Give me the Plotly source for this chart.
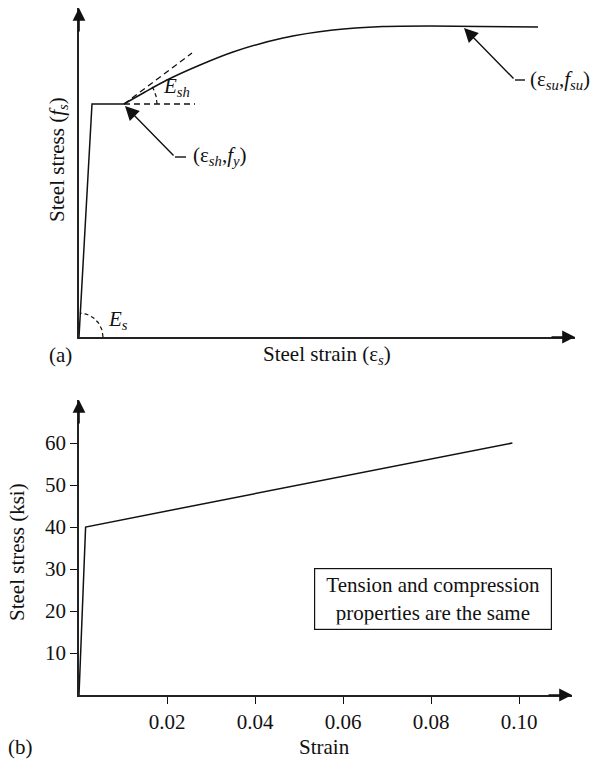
import numpy as np
import plotly.graph_objects as go

W, H = 597, 761

# ---------------- data ----------------
# (a) schematic stress-strain curve (arbitrary units)
top_elastic_strain = [0, 13, 45]
top_elastic_stress = [0, 233, 233]
top_hard_strain = [45, 66, 88, 121, 154, 204, 254, 304, 351, 401, 459]
top_hard_stress = [233, 245, 257, 272, 285, 299, 307, 310.5, 311, 310.5, 310]

# (b) bilinear steel model
bottom_strain = [0, 0.0015, 0.0985]
bottom_stress = [0, 40, 60]
bottom_xticks = [0.02, 0.04, 0.06, 0.08, 0.10]
bottom_xlabels = ["0.02", "0.04", "0.06", "0.08", "0.10"]
bottom_yticks = [10, 20, 30, 40, 50, 60]

FONT = "Liberation Serif, Times New Roman, serif"
FS = 21
INK = "#111111"


def pxx(p):
    return p / W


def pyy(p):
    return 1 - p / H


# top panel pixel->data helpers (for decorations)
def tx(p):
    return p - 79


def ty(p):
    return 337 - p


fig = go.Figure()

line = dict(color=INK, width=1.5)
dash = dict(color=INK, width=1.3, dash="6px,4px")

fig.add_trace(go.Scatter(x=top_elastic_strain, y=top_elastic_stress, mode="lines",
                         line=line, xaxis="x", yaxis="y", hoverinfo="skip"))
fig.add_trace(go.Scatter(x=top_hard_strain, y=top_hard_stress, mode="lines",
                         line=dict(color=INK, width=1.5, shape="spline", smoothing=0.8),
                         xaxis="x", yaxis="y", hoverinfo="skip"))

# tangent & horizontal dashed reference lines at onset of hardening
fig.add_trace(go.Scatter(x=[45, 113], y=[233, 284], mode="lines", line=dash,
                         xaxis="x", yaxis="y", hoverinfo="skip"))
fig.add_trace(go.Scatter(x=[45, 116], y=[233, 233], mode="lines", line=dash,
                         xaxis="x", yaxis="y", hoverinfo="skip"))

# angle arcs
th = np.linspace(0, np.radians(37), 20)
fig.add_trace(go.Scatter(x=45 + 33 * np.cos(th), y=233 + 33 * np.sin(th), mode="lines",
                         line=dict(color=INK, width=1.2, dash="4px,3px"),
                         xaxis="x", yaxis="y", hoverinfo="skip"))
th2 = np.linspace(0, np.radians(88), 30)
fig.add_trace(go.Scatter(x=24 * np.cos(th2), y=24 * np.sin(th2), mode="lines",
                         line=dict(color=INK, width=1.2, dash="4px,3px"),
                         xaxis="x", yaxis="y", hoverinfo="skip"))

# bottom curve
fig.add_trace(go.Scatter(x=bottom_strain, y=bottom_stress, mode="lines", line=line,
                         xaxis="x2", yaxis="y2", hoverinfo="skip"))

axis_common = dict(showline=True, linecolor="#222222", linewidth=1.8, showgrid=False,
                   zeroline=False, fixedrange=True)

fig.update_layout(
    width=W, height=H,
    margin=dict(l=0, r=0, t=0, b=0),
    paper_bgcolor="white", plot_bgcolor="white",
    showlegend=False,
    font=dict(family=FONT, size=FS, color=INK),
    xaxis=dict(domain=[pxx(79), pxx(575)], range=[0, 496], anchor="y",
               showticklabels=False, ticks="", **axis_common),
    yaxis=dict(domain=[pyy(337), pyy(8)], range=[0, 329], anchor="x",
               showticklabels=False, ticks="", **axis_common),
    xaxis2=dict(domain=[pxx(79), pxx(572)], range=[0, (572 - 79) / 88 * 0.02], anchor="y2",
                tickvals=bottom_xticks, ticktext=bottom_xlabels, ticks="outside",
                ticklen=7, tickwidth=1.3, tickcolor=INK,
                tickfont=dict(family=FONT, size=FS, color=INK), **axis_common),
    yaxis2=dict(domain=[pyy(695), pyy(400)], range=[0, 295 / 4.2], anchor="x2",
                tickvals=bottom_yticks, ticks="outside", ticklen=7, tickwidth=1.3,
                tickcolor=INK, tickfont=dict(family=FONT, size=FS, color=INK), **axis_common),
)

ann = []


def axis_arrow(xp, yp, ax, ay):
    ann.append(dict(x=pxx(xp), y=pyy(yp), xref="paper", yref="paper", ax=ax, ay=ay,
                    showarrow=True, arrowhead=2, arrowsize=1.6, arrowwidth=1.6,
                    arrowcolor=INK, standoff=0, text=""))


axis_arrow(79, 8, 0, 25)
axis_arrow(575, 337, -25, 0)
axis_arrow(79, 400, 0, 25)
axis_arrow(572, 695, -25, 0)


def text(xp, yp, t, xanchor="center", angle=0, size=FS):
    ann.append(dict(x=pxx(xp), y=pyy(yp), xref="paper", yref="paper", text=t,
                    showarrow=False, xanchor=xanchor, yanchor="middle", textangle=angle,
                    font=dict(family=FONT, size=size, color=INK)))


# pointer arrows (top panel)
def pointer(tipx, tipy, tailx, taily, endx):
    ann.append(dict(x=tx(tipx), y=ty(tipy), xref="x", yref="y",
                    ax=tx(tailx), ay=ty(taily), axref="x", ayref="y",
                    showarrow=True, arrowhead=2, arrowsize=2.0, arrowwidth=1.4,
                    arrowcolor=INK, standoff=0, text=""))
    fig.add_shape(type="line", xref="x", yref="y", x0=tx(tailx), y0=ty(taily),
                  x1=tx(endx), y1=ty(taily), line=dict(color=INK, width=1.4))


pointer(125, 106, 175, 157, 186)
pointer(464, 28, 515, 80, 525)

text(191, 156, "(ε<sub><i>sh</i></sub>,<i>f<sub>y</sub></i>)", xanchor="left")
text(528, 80, "(ε<sub><i>su</i></sub>,<i>f<sub>su</sub></i>)", xanchor="left")
text(161, 87, "<i>E<sub>sh</sub></i>", xanchor="left")
text(106, 320, "<i>E<sub>s</sub></i>", xanchor="left")

text(61, 355, "(a)")
text(327, 355, "Steel strain (ε<sub><i>s</i></sub>)")
text(58, 160, "Steel stress (<i>f<sub>s</sub></i>)", angle=-90)

text(20, 747, "(b)")
text(325, 747, "Strain")
text(17, 552, "Steel stress (ksi)", angle=-90)

ann.append(dict(x=pxx(433), y=pyy(598.5), xref="paper", yref="paper",
                text="Tension and compression<br>properties are the same",
                showarrow=False, xanchor="center", yanchor="middle", width=228,
                bordercolor=INK, borderwidth=1.2, borderpad=4, bgcolor="white",
                font=dict(family=FONT, size=FS, color=INK)))

fig.update_layout(annotations=ann)
fig.write_html("out.html", config={"displayModeBar": False},
               post_script="document.body.style.margin='0';document.body.style.padding='0';")
